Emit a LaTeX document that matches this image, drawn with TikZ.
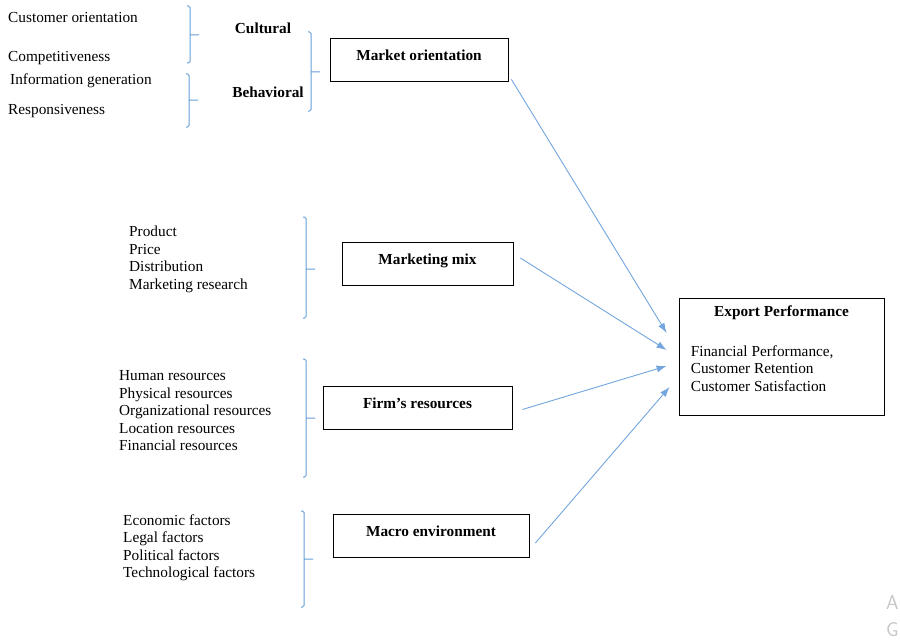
\documentclass[tikz,border=0pt]{standalone}
\usepackage{fontspec}
\setmainfont{Liberation Serif}
\usetikzlibrary{arrows.meta}
\definecolor{braceblue}{RGB}{100,160,215}
\definecolor{arrowblue}{RGB}{115,165,222}
\begin{document}
\begin{tikzpicture}[x=1pt,y=-1pt,
	every node/.style={inner sep=0pt,font=\fontsize{15.3}{17.5}\selectfont},
	item/.style={anchor=west,align=left},
	group/.style={font=\fontsize{15.3}{17.5}\selectfont\bfseries},
	factor/.style={draw,line width=0.8pt,text height=22pt,text depth=21pt,
		font=\fontsize{15.3}{17.5}\selectfont\bfseries},
	brace/.style={draw=braceblue,line width=1pt,rounded corners=1.5pt},
	link/.style={draw=arrowblue,line width=0.9pt,-{Latex[length=10pt,width=7pt]}}]
\useasboundingbox (0,0) rectangle (900,642);

% market orientation items
\node[item] (co) at (8,18) {Customer orientation};
\node[item] (cp) at (8,58) {Competitiveness};
\node[item] (ig) at (10,81) {Information generation};
\node[item] (rs) at (8,111) {Responsiveness};
\node[group] (cul) at (263,28) {Cultural};
\node[group] (beh) at (268,92) {Behavioral};

% braces
\foreach \x/\t/\b/\m in {190/6/63/35, 189/74/127/100, 311/32/111/72,
		306/217/318/269, 306/359/477/418, 304/511/607/559}
	\draw[brace] (\x-3,\t) -- (\x,\t) -- (\x,\b) -- (\x-3,\b) (\x,\m) -- (\x+9,\m);

% factors
\node[factor,minimum width=178pt] (mo) at (419,59.5) {Market orientation};
\node[factor,minimum width=171pt] (mm) at (427.5,264) {Marketing mix};
\node[factor,minimum width=189pt] (fr) at (417.5,407.5) {Firm’s resources};
\node[factor,minimum width=196pt] (me) at (431,536) {Macro environment};

\node[item] (mml) at (129,259.5) {Product\\Price\\Distribution\\Marketing research};
\node[item] (frl) at (119,411) {Human resources\\Physical resources\\Organizational resources\\Location resources\\Financial resources};
\node[item] (mel) at (123,548) {Economic factors\\Legal factors\\Political factors\\Technological factors};

% export performance
\node[draw,line width=0.8pt,minimum width=205pt,minimum height=117pt] (ep) at (781.5,356.5) {};
\node[group] (ept) at ([yshift=-15pt]ep.north) {Export Performance};
\node[item] (epl) at ([xshift=12pt,yshift=-12pt]ep.west) {Financial Performance,\\Customer Retention\\Customer Satisfaction};

% links
\draw[link] ([xshift=3pt,yshift=2pt]mo.south east) -- ([xshift=-12pt,yshift=23.5pt]ep.west);
\draw[link] ([xshift=7pt,yshift=6pt]mm.east) -- ([xshift=-12pt,yshift=6.5pt]ep.west);
\draw[link] ([xshift=10pt,yshift=-2pt]fr.east) -- ([xshift=-12pt,yshift=-9.5pt]ep.west);
\draw[link] ([xshift=6pt,yshift=-7pt]me.east) -- ([xshift=-9pt,yshift=-30.5pt]ep.west);

% watermark
\node[anchor=west,text=black!22,font=\sffamily\fontsize{20}{20}\selectfont] (wa) at (886,603) {A};
\node[anchor=west,text=black!22,font=\sffamily\fontsize{20}{20}\selectfont] (wg) at (886,630) {G};
\end{tikzpicture}
\end{document}
